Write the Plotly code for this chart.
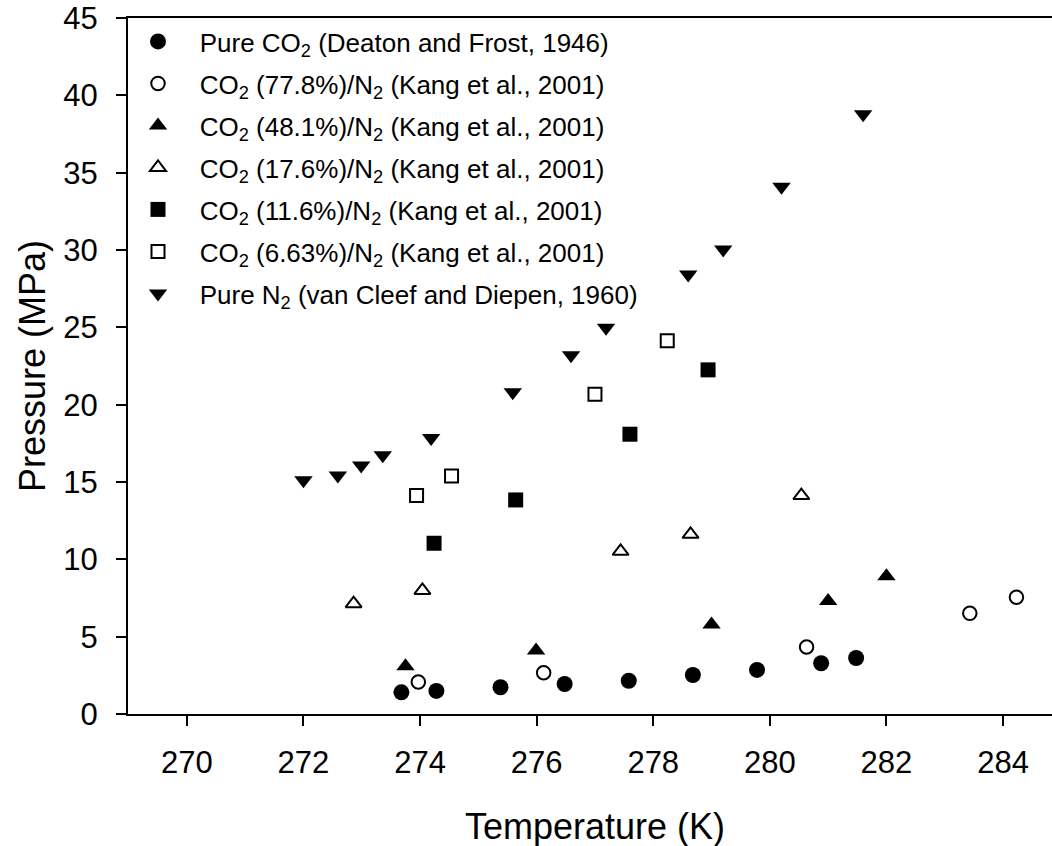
import plotly.graph_objects as go

# ---- data ----
co2_T = [273.68, 274.28, 275.38, 276.48, 277.58, 278.68, 279.78, 280.88, 281.48]
co2_P = [1.40, 1.49, 1.73, 1.94, 2.15, 2.52, 2.85, 3.28, 3.62]

m778_T = [273.97, 276.12, 280.63, 283.43, 284.23]
m778_P = [2.07, 2.67, 4.33, 6.51, 7.55]

m481_T = [273.75, 275.99, 279.00, 281.00, 282.00]
m481_P = [3.08, 4.11, 5.79, 7.31, 8.90]

m176_T = [272.86, 274.04, 277.44, 278.64, 280.54]
m176_P = [7.13, 7.99, 10.52, 11.62, 14.12]

m116_T = [274.24, 275.64, 277.60, 278.94]
m116_P = [11.04, 13.84, 18.09, 22.25]

m663_T = [273.94, 274.54, 277.00, 278.24]
m663_P = [14.12, 15.39, 20.68, 24.13]

n2_T = [272.00, 272.59, 272.99, 273.36, 274.19, 275.59, 276.59, 277.19, 278.60, 279.20, 280.20, 281.60]
n2_P = [15.12, 15.42, 16.07, 16.73, 17.85, 20.81, 23.20, 24.97, 28.42, 30.04, 34.09, 38.77]

names = [
    "Pure CO<sub>2</sub> (Deaton and Frost, 1946)",
    "CO<sub>2</sub> (77.8%)/N<sub>2</sub> (Kang et al., 2001)",
    "CO<sub>2</sub> (48.1%)/N<sub>2</sub> (Kang et al., 2001)",
    "CO<sub>2</sub> (17.6%)/N<sub>2</sub> (Kang et al., 2001)",
    "CO<sub>2</sub> (11.6%)/N<sub>2</sub> (Kang et al., 2001)",
    "CO<sub>2</sub> (6.63%)/N<sub>2</sub> (Kang et al., 2001)",
    "Pure N<sub>2</sub> (van Cleef and Diepen, 1960)",
]

x_ticks = [270, 272, 274, 276, 278, 280, 282, 284]
y_ticks = [0, 5, 10, 15, 20, 25, 30, 35, 40, 45]

FONT = "Arial, Liberation Sans, sans-serif"
PAD = "\u00a0\u00a0\u00a0"

series = [
    (co2_T, co2_P, "circle", 16, 0),
    (m778_T, m778_P, "circle-open", 13.5, 2),
    (m481_T, m481_P, "triangle-up", 16, 0),
    (m176_T, m176_P, "triangle-up-open", 14, 2),
    (m116_T, m116_P, "square", 15, 0),
    (m663_T, m663_P, "square-open", 13, 2),
    (n2_T, n2_P, "triangle-down", 16, 0),
]

fig = go.Figure()
for i, ((xs, ys, sym, sz, lw), nm) in enumerate(zip(series, names)):
    fig.add_trace(go.Scatter(
        x=xs, y=ys, mode="markers", name=PAD + nm,
        legendgroup=f"g{i}",
        marker=dict(symbol=sym, size=sz, color="black",
                    line=dict(color="black", width=lw)),
    ))

W, H = 1052, 846
L, R, T, B = 128, 0, 18, 132
pw, ph = W - L - R, H - T - B

fig.update_layout(
    width=W, height=H,
    margin=dict(l=L, r=R, t=T, b=B, pad=0),
    paper_bgcolor="white", plot_bgcolor="white",
    font=dict(family=FONT, color="black", size=31),
    showlegend=True,
    legend=dict(
        x=(138 - L) / pw, y=1 - (18 - T) / ph, xanchor="left", yanchor="top",
        bgcolor="rgba(0,0,0,0)", borderwidth=0,
        font=dict(size=26, family=FONT, color="black"),
        tracegroupgap=5.2, itemsizing="trace",
    ),
    xaxis=dict(
        range=[268.99, 284.84], tickvals=x_ticks, ticktext=[str(v) for v in x_ticks],
        showgrid=False, zeroline=False,
        showline=True, linecolor="black", linewidth=2, mirror=True,
        ticks="outside", ticklen=10, tickwidth=2, tickcolor="black",
        tickfont=dict(size=31, family=FONT), ticklabelstandoff=10,
    ),
    yaxis=dict(
        range=[0, 45], tickvals=y_ticks, ticktext=[str(v) for v in y_ticks],
        showgrid=False, zeroline=False,
        showline=True, linecolor="black", linewidth=2, mirror=False,
        ticks="outside", ticklen=10, tickwidth=2, tickcolor="black",
        tickfont=dict(size=31, family=FONT), ticklabelstandoff=12,
    ),
    annotations=[
        dict(text="Temperature (K)", xref="paper", yref="paper",
             x=(595 - L) / pw, y=-(826 - (T + ph)) / ph,
             xanchor="center", yanchor="middle", showarrow=False,
             font=dict(size=36, family=FONT, color="black")),
        dict(text="Pressure (MPa)", xref="paper", yref="paper",
             x=(32 - L) / pw, y=0.5, textangle=-90,
             xanchor="center", yanchor="middle", showarrow=False,
             font=dict(size=36, family=FONT, color="black")),
    ],
)

fig.write_html("out.html")
